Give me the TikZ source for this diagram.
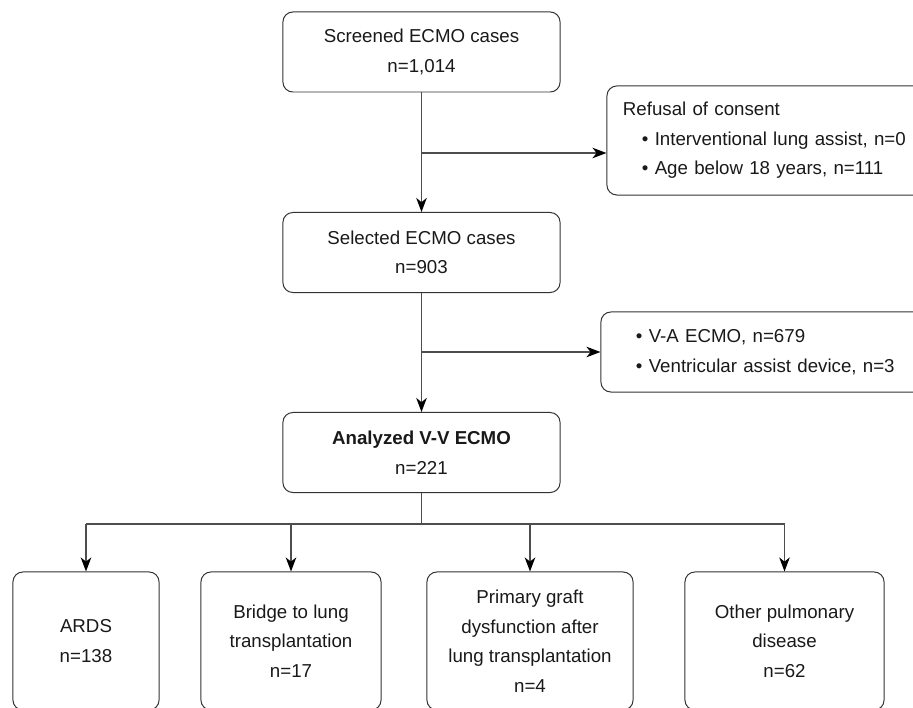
\documentclass[tikz,border=0pt]{standalone}
\usepackage{fontspec}
\setmainfont{Liberation Sans}
\usepackage{xcolor}
\usepackage{tikz}
\usetikzlibrary{arrows.meta,positioning,calc}

\definecolor{boxline}{HTML}{333333}
\definecolor{flowline}{HTML}{4D4D4D}

\begin{document}
\begin{tikzpicture}[x=0.025cm, y=-0.025cm,
  font=\fontsize{13.3}{21}\selectfont,
  box/.style={draw=boxline, line width=0.7pt, rounded corners=7pt, align=center, text=black!90, inner sep=0pt},
  listbox/.style={box, align=left, inner xsep=0.4cm},
  flow/.style={draw=flowline, line width=1pt},
  arrow/.style={flow, -{Stealth[length=10pt, width=7.5pt, inset=3pt, color=black]}}
]
\useasboundingbox (0,0) rectangle (913,708);

% Main column: screened -> selected -> analyzed
\node[box, minimum width=6.925cm, minimum height=2cm] (screened) at (421.5,52) {Screened ECMO cases\\n=1,014};
\node[box, minimum width=6.925cm, minimum height=2cm] (selected) at (421.5,252.5) {Selected ECMO cases\\n=903};
\node[box, minimum width=6.925cm, minimum height=2cm] (analyzed) at (421.5,452.5) {\textbf{Analyzed V-V ECMO}\\n=221};

% Exclusions on the right
\node[listbox, text width=7.3cm, minimum height=2.725cm] (refusal) at (769,140.5)
  {Refusal of consent\\
   \hspace*{0.475cm}\textbullet\ Interventional lung assist, n=0\\
   \hspace*{0.475cm}\textbullet\ Age below 18 years, n=111};
\node[listbox, text width=7.3cm, minimum height=2cm] (excluded) at (763,352)
  {\hspace*{0.475cm}\textbullet\ V-A ECMO, n=679\\
   \hspace*{0.475cm}\textbullet\ Ventricular assist device, n=3};

% Indication groups
\node[box, minimum width=3.65cm, minimum height=3.45cm] (ards) at (86,641) {ARDS\\n=138};
\node[box, minimum width=4.5cm, minimum height=3.45cm] (bridge) at (291,641) {Bridge to lung\\transplantation\\n=17};
\node[box, minimum width=5.15cm, minimum height=3.45cm] (graft) at (530,641) {Primary graft\\dysfunction after\\lung transplantation\\n=4};
\node[box, minimum width=4.975cm, minimum height=3.45cm] (other) at (784.5,641) {Other pulmonary\\disease\\n=62};

% Flow arrows
\coordinate (split1) at (421.5,153);
\draw[arrow] (screened) -- (selected);
\draw[arrow] (split1) -- (split1 -| refusal.west);
\draw[arrow] (selected) -- (analyzed);
\draw[arrow] (selected.south |- excluded.west) -- (excluded.west);

% Bus to the groups
\coordinate (bus) at (421.5,524);
\draw[flow] (analyzed.south) -- (bus);
\draw[flow] (ards.north |- bus) -- (other.north |- bus);
\foreach \grp in {ards,bridge,graft,other}
  \draw[arrow] (\grp.north |- bus) -- (\grp.north);

\end{tikzpicture}
\end{document}
